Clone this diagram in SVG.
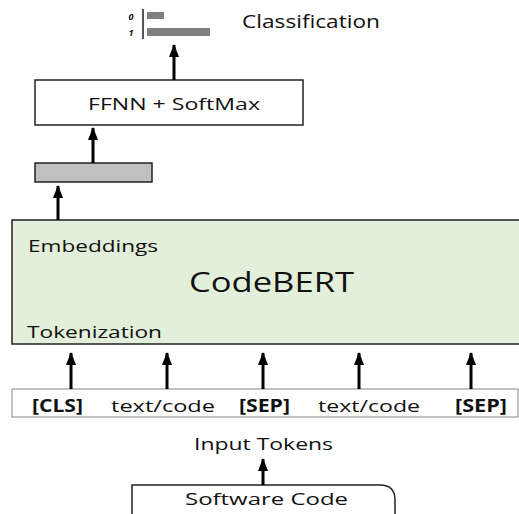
<svg xmlns="http://www.w3.org/2000/svg" width="519" height="514" viewBox="0 0 519 514">
<defs>
<marker id="ah" markerWidth="13" markerHeight="10" refX="12" refY="5" orient="auto" markerUnits="userSpaceOnUse" viewBox="0 0 13 10">
<path d="M0,0 L13,5 L0,10 Z" fill="#000"/>
</marker>
<style>
text{font-family:"Open Sans","Noto Sans","DejaVu Sans",sans-serif;fill:#111}
.t17{font-size:17px}
.b{font-weight:bold}
.arr{stroke:#000;stroke-width:3;fill:none;marker-end:url(#ah)}
</style>
</defs>
<rect width="519" height="514" fill="#fff"/>
<g id="classification">
<line x1="143" y1="9" x2="143" y2="39" stroke="#555" stroke-width="2"/>
<rect x="147" y="12" width="17" height="7" fill="#808080"/>
<rect x="147" y="28" width="63" height="8" fill="#808080"/>
<text x="131" y="20" font-size="9" font-style="italic" font-weight="bold" fill="#555" text-anchor="middle">0</text>
<text x="131" y="36" font-size="9" font-style="italic" font-weight="bold" fill="#555" text-anchor="middle">1</text>
<text x="242" y="28" font-size="18" textLength="138" lengthAdjust="spacingAndGlyphs">Classification</text>
</g>
<g id="ffnn">
<rect x="35" y="80" width="268" height="45" fill="#fff" stroke="#222" stroke-width="1.5"/>
<text x="88" y="110" class="t17" textLength="172" lengthAdjust="spacingAndGlyphs">FFNN + SoftMax</text>
</g>
<g id="pooled">
<rect x="35" y="163" width="117" height="19" fill="#c0c0c0" stroke="#222" stroke-width="1.5"/>
</g>
<g id="codebert">
<rect x="12" y="220" width="520" height="124" fill="#e2efda" stroke="#222" stroke-width="1.5"/>
<text x="28" y="252" class="t17" textLength="130" lengthAdjust="spacingAndGlyphs">Embeddings</text>
<text x="189" y="292" font-size="28" textLength="165" lengthAdjust="spacingAndGlyphs">CodeBERT</text>
<text x="27" y="338" class="t17" textLength="135" lengthAdjust="spacingAndGlyphs">Tokenization</text>
</g>
<g id="tokens">
<rect x="12" y="389" width="506" height="28" fill="#fff" stroke="#888" stroke-width="1"/>
<text x="32" y="412" class="t17 b" textLength="51" lengthAdjust="spacingAndGlyphs">[CLS]</text>
<text x="111" y="412" class="t17" textLength="104" lengthAdjust="spacingAndGlyphs">text/code</text>
<text x="239" y="412" class="t17 b" textLength="51" lengthAdjust="spacingAndGlyphs">[SEP]</text>
<text x="318" y="412" class="t17" textLength="102" lengthAdjust="spacingAndGlyphs">text/code</text>
<text x="455" y="412" class="t17 b" textLength="52" lengthAdjust="spacingAndGlyphs">[SEP]</text>
</g>
<g id="input-tokens">
<text x="194" y="450" class="t17" textLength="139" lengthAdjust="spacingAndGlyphs">Input Tokens</text>
</g>
<g id="software-code">
<path d="M132,520 L132,485 L380,485 Q395,485 395,500 L395,520" fill="#fff" stroke="#222" stroke-width="1.5"/>
<text x="185" y="505" class="t17" textLength="163" lengthAdjust="spacingAndGlyphs">Software Code</text>
</g>
<g id="connectors">
<line class="arr" x1="174" y1="80" x2="174" y2="45"/>
<line class="arr" x1="93" y1="163" x2="93" y2="128"/>
<line class="arr" x1="58" y1="220" x2="58" y2="186"/>
<line class="arr" x1="71" y1="389" x2="71" y2="353"/>
<line class="arr" x1="167" y1="389" x2="167" y2="353"/>
<line class="arr" x1="263" y1="389" x2="263" y2="353"/>
<line class="arr" x1="359" y1="389" x2="359" y2="353"/>
<line class="arr" x1="471" y1="389" x2="471" y2="353"/>
<line class="arr" x1="263" y1="485" x2="263" y2="459"/>
</g>
</svg>
